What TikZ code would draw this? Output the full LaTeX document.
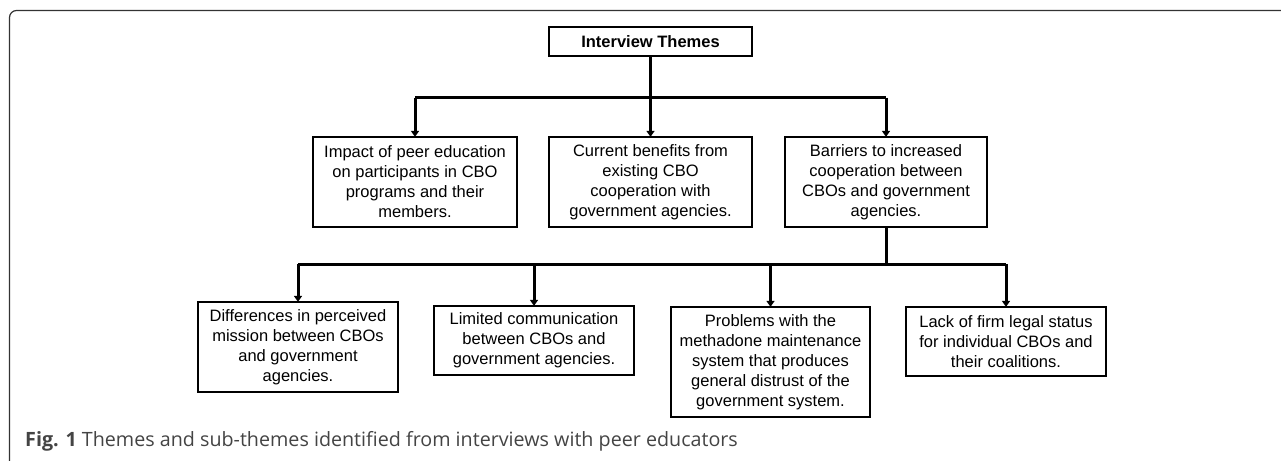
\documentclass[tikz,border=0pt]{standalone}
\usepackage{fontspec}
\setmainfont{Liberation Sans}
\newfontfamily\capfont{Open Sans}
\usetikzlibrary{arrows.meta}
\definecolor{frameGray}{HTML}{333333}
\definecolor{capGray}{HTML}{444444}
\tikzset{
  themebox/.style={draw=black, line width=1.3pt, fill=white, inner sep=0pt,
    align=center, font=\fontsize{16.5}{20}\selectfont},
  conn/.style={draw=black, line width=3pt},
  arr/.style={conn, -{Triangle[width=8pt,length=6pt]}, shorten >=-0.5pt},
}
\begin{document}
\begin{tikzpicture}[x=1pt,y=-1pt]
\useasboundingbox (0,0) rectangle (1281,460);
% outer frame (open at right and bottom)
\draw[frameGray, line width=1.2pt, rounded corners=7pt] (9.5,470) -- (9.5,10.5) -- (1290,10.5);

% nodes
\node[themebox, minimum width=203pt, minimum height=29pt, font=\fontsize{16.5}{20}\selectfont\bfseries] (top) at (650.5,41.5) {Interview Themes};

\node[themebox, minimum width=204pt, minimum height=90pt] (b1) at (415,182) {Impact of peer education\\ on participants in CBO\\ programs and their\\ members.};
\node[themebox, minimum width=203pt, minimum height=90pt] (b2) at (650.5,182) {Current benefits from\\ existing CBO\\ cooperation with\\ government agencies.};
\node[themebox, minimum width=202pt, minimum height=90pt] (b3) at (886,182) {Barriers to increased\\ cooperation between\\ CBOs and government\\ agencies.};

\node[themebox, minimum width=200pt, minimum height=90pt] (c1) at (298,347) {Differences in perceived\\ mission between CBOs\\ and government\\ agencies.};
\node[themebox, minimum width=200pt, minimum height=69pt] (c2) at (534,340.5) {Limited communication\\ between CBOs and\\ government agencies.};
\node[themebox, minimum width=199pt, minimum height=110pt] (c3) at (770.5,362) {Problems with the\\ methadone maintenance\\ system that produces\\ general distrust of the\\ government system.};
\node[themebox, minimum width=200pt, minimum height=69pt] (c4) at (1006,341.5) {Lack of firm legal status\\ for individual CBOs and\\ their coalitions.};

% junction coordinates
\coordinate (j1) at (650.5,97.5);
\coordinate (j2) at (886,264);

% connectors level 1
\draw[conn] (top.south) -- (j1);
\draw[conn] (b1.north |- j1) -- (b3.north |- j1);
\draw[arr] (b1.north |- j1) -- (b1.north);
\draw[arr] (j1) -- (b2.north);
\draw[arr] (b3.north |- j1) -- (b3.north);

% connectors level 2
\draw[conn] (b3.south) -- (j2);
\draw[conn] (c1.north |- j2) -- (c4.north |- j2);
\draw[arr] (c1.north |- j2) -- (c1.north);
\draw[arr] (c2.north |- j2) -- (c2.north);
\draw[arr] (c3.north |- j2) -- (c3.north);
\draw[arr] (c4.north |- j2) -- (c4.north);

% caption
\node[anchor=base west, inner sep=0pt, text=capGray, font=\capfont\fontsize{19.7}{22}\selectfont] (cap) at (25,446) {\textbf{Fig. 1} Themes and sub-themes identified from interviews with peer educators};
\end{tikzpicture}
\end{document}
